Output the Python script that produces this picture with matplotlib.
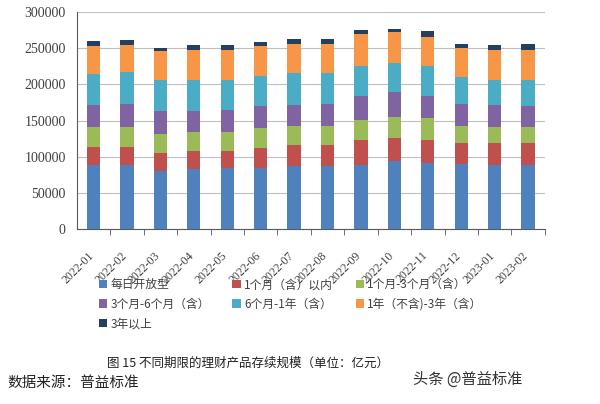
import matplotlib.pyplot as plt
import matplotlib.transforms as mtransforms
import numpy as np
from matplotlib.patches import Patch

plt.rcParams['font.family'] = ['Liberation Serif', 'Noto Sans CJK SC']

months = ['2022-01', '2022-02', '2022-03', '2022-04', '2022-05', '2022-06', '2022-07',
          '2022-08', '2022-09', '2022-10', '2022-11', '2022-12', '2023-01', '2023-02']

series_names = ['每日开放型', '1个月（含）以内', '1个月-3个月（含）', '3个月-6个月（含）',
                '6个月-1年（含）', '1年（不含)-3年（含）', '3年以上']

tops = np.array([
    [89000, 113500, 140700, 172100, 214700, 252900, 259800],
    [89000, 113500, 141200, 173500, 216900, 255200, 260800],
    [80700, 105300, 131600, 162900, 206800, 246000, 250700],
    [83100, 107500, 133800, 163800, 206800, 247400, 254300],
    [84500, 108400, 134800, 164800, 206800, 247400, 253900],
    [84500, 112200, 139900, 169800, 212300, 252900, 259000],
    [86700, 116800, 142100, 172100, 216100, 255700, 263100],
    [87700, 116800, 142100, 173500, 216100, 256600, 263100],
    [89000, 123700, 151400, 184600, 225200, 269100, 274600],
    [94600, 126000, 155100, 189700, 229900, 272300, 276000],
    [91400, 123700, 153700, 184600, 225200, 265900, 273700],
    [90000, 119100, 143100, 173500, 210500, 250700, 256600],
    [89000, 119100, 141200, 172100, 206800, 247400, 255200],
    [89000, 119100, 141200, 170800, 206800, 247400, 256200],
])
segments = np.diff(np.hstack([np.zeros((len(months), 1)), tops]), axis=1)

colors = ['#4F81BD', '#C0504D', '#9BBB59', '#8064A2', '#4BACC6', '#F79646', '#243F60']

fig = plt.figure(figsize=(6, 4.04), dpi=100)
ax = fig.add_axes([0.128, 0.433, 0.78, 0.537])

x = np.arange(len(months))
bottom = np.zeros(len(months))
for i in range(len(series_names)):
    ax.bar(x, segments[:, i], bottom=bottom, width=0.4, color=colors[i], zorder=3)
    bottom += segments[:, i]

ax.set_xlim(-0.5, len(months) - 0.5)
ax.set_ylim(0, 300000)
ax.set_yticks(np.arange(0, 300001, 50000))
ax.yaxis.grid(True, color='#BFBFBF', linewidth=0.8, zorder=0)
ax.tick_params(axis='y', length=0, labelsize=10, colors='#404040', pad=8)

ax.set_xticks(x)
ax.set_xticklabels(months, rotation=45, ha='right', rotation_mode='anchor', fontsize=8.5,
                   color='#404040')
ax.tick_params(axis='x', which='major', length=0, pad=6)
shift = mtransforms.ScaledTranslation(-6 / 100, -12 / 100, fig.dpi_scale_trans)
for lab in ax.get_xticklabels():
    lab.set_transform(lab.get_transform() + shift)
ax.set_xticks(np.arange(0.5, len(months) - 0.5 + 0.01, 1.0), minor=True)
ax.tick_params(axis='x', which='minor', length=4, direction='out', color='#595959')

for side in ['top', 'right']:
    ax.spines[side].set_visible(False)
ax.spines['left'].set_color('#595959')
ax.spines['bottom'].set_color('#595959')

handles = [Patch(facecolor=c) for c in colors]
order = [0, 3, 6, 1, 4, 2, 5]
fig.legend([handles[i] for i in order], [series_names[i] for i in order],
           loc='upper left', bbox_to_anchor=(0.147, 0.338), ncol=3, frameon=False,
           prop={'family': 'Noto Sans CJK SC', 'size': 8.5}, handlelength=0.7,
           handleheight=0.7, handletextpad=0.3, columnspacing=1.9, labelspacing=0.55,
           labelcolor='#404040')

fig.text(0.413, 0.101, '图 15 不同期限的理财产品存续规模（单位：亿元）', ha='center', va='center',
         fontsize=9, family=['Noto Sans CJK SC'], color='#222222')
fig.text(0.013, 0.052, '数据来源：普益标准', ha='left', va='center', fontsize=10.5,
         family=['Noto Sans CJK SC'], color='#222222')
fig.text(0.688, 0.062, '头条 @普益标准', ha='left', va='center', fontsize=11,
         family=['Noto Sans CJK SC'], color='#333333')

fig.savefig('out.png', dpi=100)
